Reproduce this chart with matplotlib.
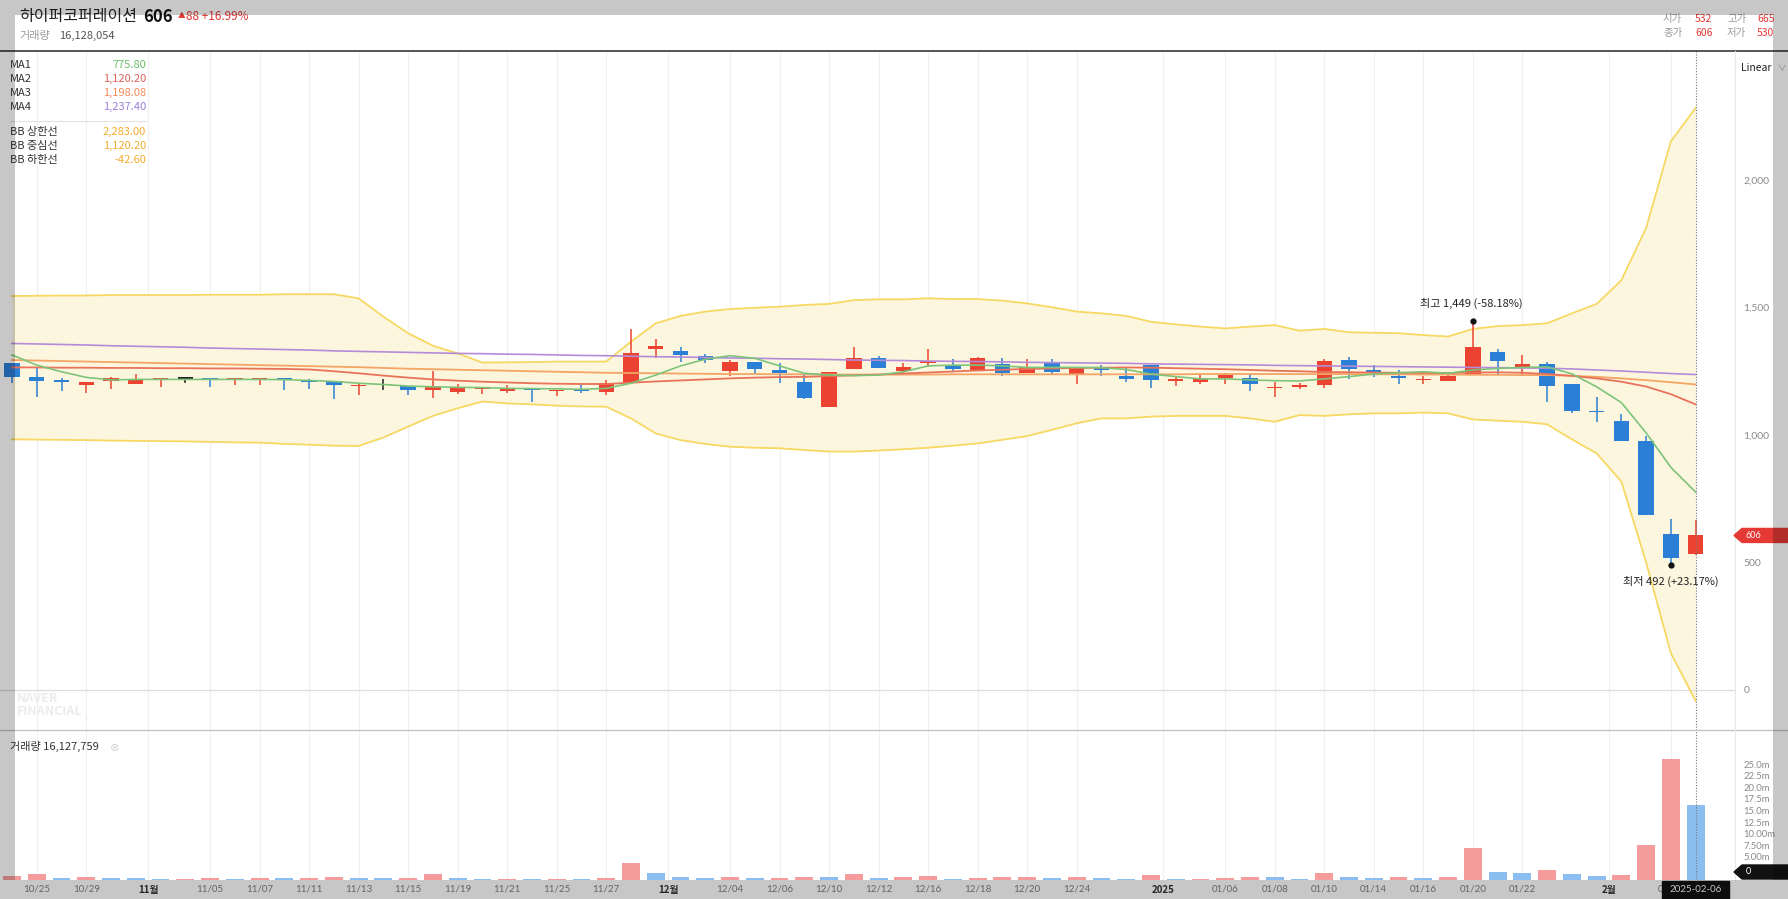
import matplotlib
matplotlib.use("Agg")
import matplotlib.pyplot as plt
from matplotlib.patches import Rectangle, Polygon
import numpy as np

plt.rcParams['font.family'] = ['Noto Sans CJK KR', 'DejaVu Sans']

# ---- data (daily candles, 2024-10-24 .. 2025-02-06) ----
dates = ['10/24', '10/25', '10/28', '10/29', '10/30', '10/31', '11/01', '11/04', '11/05', '11/06',
         '11/07', '11/08', '11/11', '11/12', '11/13', '11/14', '11/15', '11/18', '11/19', '11/20',
         '11/21', '11/22', '11/25', '11/26', '11/27', '11/28', '11/29', '12/02', '12/03', '12/04',
         '12/05', '12/06', '12/09', '12/10', '12/11', '12/12', '12/13', '12/16', '12/17', '12/18',
         '12/19', '12/20', '12/23', '12/24', '12/26', '12/27', '12/30', '01/02', '01/03', '01/06',
         '01/07', '01/08', '01/09', '01/10', '01/13', '01/14', '01/15', '01/16', '01/17', '01/20',
         '01/21', '01/22', '01/23', '01/24', '01/31', '02/03', '02/04', '02/05', '02/06']
opens = [1281, 1226, 1216, 1196, 1210, 1199, 1218, 1221, 1222, 1217, 1217, 1219, 1213, 1212, 1192,
         1195, 1192, 1176, 1168, 1180, 1174, 1182, 1173, 1177, 1169, 1205, 1336, 1331, 1311, 1252,
         1285, 1255, 1209, 1108, 1258, 1303, 1251, 1281, 1272, 1252, 1277, 1242, 1284, 1235, 1268,
         1230, 1274, 1213, 1207, 1225, 1222, 1183, 1190, 1196, 1294, 1255, 1231, 1216, 1213, 1235,
         1327, 1265, 1278, 1199, 1095, 1055, 978, 611, 532]
highs = [1283, 1261, 1222, 1208, 1226, 1238, 1223, 1229, 1222, 1220, 1220, 1219, 1218, 1212, 1203,
         1218, 1192, 1252, 1200, 1184, 1195, 1182, 1177, 1195, 1216, 1414, 1375, 1346, 1318, 1294,
         1285, 1284, 1235, 1246, 1344, 1310, 1284, 1336, 1297, 1307, 1301, 1297, 1297, 1261, 1274,
         1261, 1274, 1231, 1236, 1244, 1238, 1209, 1205, 1297, 1305, 1274, 1255, 1231, 1244, 1449,
         1337, 1314, 1288, 1199, 1148, 1081, 997, 671, 665]
lows = [1203, 1150, 1174, 1163, 1180, 1199, 1190, 1203, 1187, 1196, 1196, 1176, 1182, 1141, 1157,
        1176, 1157, 1146, 1161, 1161, 1163, 1128, 1153, 1163, 1157, 1205, 1303, 1288, 1284, 1233,
        1238, 1203, 1140, 1108, 1258, 1261, 1239, 1265, 1252, 1252, 1231, 1242, 1239, 1200, 1231,
        1207, 1186, 1192, 1199, 1200, 1174, 1148, 1179, 1183, 1220, 1229, 1199, 1199, 1213, 1235,
        1239, 1233, 1128, 1085, 1050, 978, 686, 492, 530]
closes = [1229, 1213, 1208, 1208, 1223, 1220, 1223, 1221, 1218, 1219, 1219, 1217, 1206, 1195, 1196,
          1195, 1176, 1192, 1187, 1184, 1182, 1178, 1177, 1173, 1203, 1323, 1349, 1312, 1294, 1286,
          1258, 1244, 1144, 1246, 1303, 1261, 1268, 1291, 1258, 1301, 1242, 1265, 1248, 1261, 1255,
          1220, 1216, 1218, 1221, 1235, 1200, 1190, 1196, 1290, 1258, 1248, 1224, 1220, 1231, 1344,
          1290, 1278, 1192, 1095, 1090, 978, 686, 518, 606]
volume_m = [0.93, 1.2, 0.5, 0.7, 0.4, 0.38, 0.2, 0.2, 0.5, 0.3,
            0.5, 0.4, 0.5, 0.65, 0.45, 0.4, 0.5, 1.4, 0.4, 0.3,
            0.3, 0.28, 0.3, 0.28, 0.5, 3.7, 1.45, 0.75, 0.4, 0.75,
            0.35, 0.5, 0.7, 0.65, 1.2, 0.5, 0.55, 0.8, 0.3, 0.5,
            0.55, 0.75, 0.45, 0.7, 0.4, 0.2, 1.0, 0.3, 0.3, 0.5,
            0.75, 0.55, 0.25, 1.5, 0.75, 0.4, 0.7, 0.4, 0.7, 6.9,
            1.8, 1.45, 2.1, 1.2, 0.95, 1.0, 7.5, 26.0, 16.13]

ma1 = [1314, 1274, 1248, 1226, 1216, 1218, 1218, 1218, 1218, 1218, 1218, 1217, 1214, 1210, 1203,
       1198, 1192, 1189, 1187, 1186, 1183, 1182, 1181, 1179, 1183, 1203, 1235, 1271, 1297, 1311,
       1301, 1271, 1242, 1235, 1233, 1235, 1248, 1271, 1274, 1274, 1271, 1265, 1265, 1265, 1264,
       1257, 1239, 1229, 1220, 1220, 1216, 1213, 1212, 1220, 1229, 1239, 1244, 1248, 1242, 1255,
       1261, 1265, 1267, 1240, 1189, 1127, 1008, 873, 776]
ma2 = [1265, 1265, 1264, 1264, 1263, 1263, 1262, 1262, 1261, 1261, 1260, 1259, 1257, 1250, 1242,
       1233, 1225, 1218, 1213, 1209, 1206, 1203, 1201, 1200, 1200, 1205, 1210, 1214, 1218, 1222,
       1225, 1227, 1228, 1231, 1234, 1237, 1241, 1245, 1249, 1253, 1256, 1259, 1261, 1263, 1264,
       1265, 1264, 1262, 1260, 1258, 1255, 1252, 1250, 1247, 1246, 1245, 1244, 1243, 1243, 1245,
       1246, 1244, 1239, 1232, 1222, 1209, 1190, 1160, 1120]
ma3 = [1294, 1292, 1290, 1288, 1286, 1284, 1282, 1280, 1278, 1276, 1274, 1272, 1270, 1268, 1266,
       1263, 1260, 1258, 1256, 1254, 1252, 1250, 1248, 1246, 1244, 1243, 1242, 1241, 1240, 1239,
       1239, 1238, 1238, 1237, 1237, 1237, 1237, 1237, 1238, 1238, 1238, 1238, 1238, 1238, 1238,
       1238, 1238, 1238, 1239, 1239, 1239, 1239, 1239, 1239, 1239, 1238, 1238, 1237, 1237, 1236,
       1236, 1235, 1235, 1232, 1228, 1222, 1215, 1207, 1198]
ma4 = [1359, 1357, 1355, 1353, 1350, 1348, 1346, 1344, 1341, 1339, 1337, 1335, 1333, 1330, 1328,
       1326, 1324, 1322, 1320, 1319, 1317, 1316, 1314, 1312, 1311, 1309, 1307, 1306, 1304, 1302,
       1301, 1299, 1298, 1296, 1294, 1293, 1292, 1290, 1289, 1288, 1287, 1285, 1284, 1283, 1282,
       1281, 1279, 1278, 1277, 1276, 1275, 1273, 1272, 1271, 1270, 1269, 1268, 1267, 1266, 1265,
       1264, 1263, 1262, 1259, 1255, 1251, 1246, 1241, 1237]
bb_upper = [1545, 1546, 1547, 1547, 1549, 1549, 1549, 1549, 1550, 1550, 1550, 1552, 1552, 1552, 1536,
            1464, 1399, 1350, 1320, 1284, 1285, 1286, 1288, 1288, 1288, 1366, 1438, 1467, 1484, 1494,
            1499, 1503, 1510, 1514, 1529, 1532, 1532, 1536, 1533, 1533, 1527, 1516, 1501, 1484, 1477,
            1467, 1444, 1434, 1425, 1418, 1425, 1431, 1409, 1416, 1403, 1401, 1399, 1392, 1386, 1416,
            1427, 1431, 1438, 1477, 1514, 1607, 1812, 2152, 2283]
bb_lower = [983, 982, 981, 980, 978, 977, 976, 975, 973, 971, 970, 965, 962, 958, 957,
            990, 1033, 1075, 1105, 1131, 1124, 1120, 1115, 1112, 1111, 1065, 1006, 980, 965, 954,
            950, 948, 941, 935, 935, 939, 944, 950, 958, 967, 981, 996, 1020, 1046, 1065,
            1065, 1072, 1075, 1075, 1075, 1065, 1052, 1078, 1075, 1081, 1085, 1085, 1088, 1085, 1061,
            1056, 1052, 1042, 983, 928, 817, 500, 144, -43]

tick_dates = ['10/25', '10/29', '11/05', '11/07', '11/11', '11/13', '11/15', '11/19', '11/21',
              '11/25', '11/27', '12/04', '12/06', '12/10', '12/12', '12/16', '12/18', '12/20',
              '12/24', '01/06', '01/08', '01/10', '01/14', '01/16', '01/20', '01/22', '02/05']
month_marks = [('11월', '11/01'), ('12월', '12/02'), ('2025', '01/02'), ('2월', '02/03')]
price_ticks = [0, 500, 1000, 1500, 2000]
vol_ticks = [5, 7.5, 10, 12.5, 15, 17.5, 20, 22.5, 25]
vol_tick_labels = ['5.00m', '7.50m', '10.00m', '12.5m', '15.0m', '17.5m', '20.0m', '22.5m', '25.0m']

# ---- layout (pixels of the 1788x899 canvas) ----
W, H = 1788, 899
fig = plt.figure(figsize=(W / 100, H / 100), dpi=100, facecolor='white')


def rect(x0, y0, x1, y1):
    return [x0 / W, 1 - y1 / H, (x1 - x0) / W, (y1 - y0) / H]


def fxy(x, y):
    return x / W, 1 - y / H


x0_px, step_px = 12, 24.76
xlim = ((0 - x0_px) / step_px, (1735 - x0_px) / step_px)

ax = fig.add_axes(rect(0, 51, 1735, 730))
axv = fig.add_axes(rect(0, 730, 1735, 880))
for a in (ax, axv):
    a.set_facecolor('none')
    for s in a.spines.values():
        s.set_visible(False)
    a.set_xlim(*xlim)

x = np.arange(len(dates))
o = np.array(opens); c = np.array(closes); hi = np.array(highs); lo = np.array(lows)

RED, BLUE = '#ec4231', '#2b80d5'

# vertical grid at label positions
idx = {d: i for i, d in enumerate(dates)}
tpos = [idx[d] for d in tick_dates]
mpos = [idx[d] - 0.5 for _, d in month_marks]
for a in (ax, axv):
    for p in tpos + mpos:
        a.axvline(p, color='#f0f0f0', lw=0.9, zorder=0)

# Bollinger band
ax.fill_between(x, bb_lower, bb_upper, color='#fdf6df', zorder=1, lw=0)
ax.plot(x, bb_upper, color='#f6d862', lw=1.3, zorder=2)
ax.plot(x, bb_lower, color='#f6d862', lw=1.3, zorder=2)
ax.axhline(0, color='#dcdcdc', lw=0.9, zorder=1)

# candles
col = np.where(c > o, RED, np.where(c < o, BLUE, '#222222'))
ax.vlines(x, lo, hi, colors=col, lw=1.1, zorder=3)
body = np.maximum(np.abs(c - o), 5)
ax.bar(x, body, bottom=np.minimum(o, c), width=0.62, color=col, zorder=4, lw=0)

# moving averages
ax.plot(x, ma4, color='#b48bd9', lw=1.2, zorder=5)
ax.plot(x, ma3, color='#f4a566', lw=1.3, zorder=5)
ax.plot(x, ma2, color='#e8735a', lw=1.3, zorder=5)
ax.plot(x, ma1, color='#7cc47a', lw=1.2, zorder=6)

ax.set_ylim(-157, 2506)
ax.set_xticks([])
ax.yaxis.tick_right()
ax.set_yticks(price_ticks, [f'{v:,}' for v in price_ticks])
ax.tick_params(axis='y', length=0, pad=6, labelsize=7.5, labelcolor='#8a8a8a')
for t in ax.get_yticklabels():
    t.set_fontfamily('Lato')

# high / low markers
imax = int(np.argmax(hi)); imin = int(np.argmin(lo))
ax.plot([imax], [hi[imax]], 'o', color='#111', ms=3.5, zorder=7)
ax.plot([imin], [lo[imin]], 'o', color='#111', ms=3.5, zorder=7)
ax.annotate(f'최고 {hi[imax]:,} (-58.18%)', (imax, hi[imax]), xytext=(-1, 12), textcoords='offset points',
            ha='center', va='center', fontsize=8, color='#222')
ax.annotate(f'최저 {lo[imin]:,} (+23.17%)', (imin, lo[imin]), xytext=(0, -12.5), textcoords='offset points',
            ha='center', va='center', fontsize=8, color='#222')

# crosshair
for a in (ax, axv):
    a.axvline(len(dates) - 1, color='#777', lw=0.8, ls=(0, (1, 1.5)), zorder=8)

# volume
vol = np.array(volume_m)
vcol = ['#f49c9c'] + [('#f49c9c' if vol[i] >= vol[i - 1] else '#8cbdf0') for i in range(1, len(vol))]
axv.bar(x, vol, width=0.72, color=vcol, lw=0, zorder=3)
axv.set_ylim(0, 32.33)
axv.yaxis.tick_right()
axv.set_yticks(vol_ticks, vol_tick_labels)
axv.tick_params(axis='y', length=0, pad=6, labelsize=6.8, labelcolor='#8a8a8a')
for t in axv.get_yticklabels():
    t.set_fontfamily('Lato')
axv.set_xticks(tpos + mpos, tick_dates + [m for m, _ in month_marks])
axv.tick_params(axis='x', length=0, pad=3.5, labelsize=7, labelcolor='#808080')
for t in axv.get_xticklabels():
    if t.get_text() in [m for m, _ in month_marks]:
        t.set_fontweight('bold')
        t.set_color('#333333')
    else:
        t.set_fontfamily('Lato')

# frame lines
fig.add_artist(plt.Line2D([0, 1], [1 - 51 / H] * 2, color='#555', lw=1.4))
fig.add_artist(plt.Line2D([0, 1], [1 - 730 / H] * 2, color='#c4c4c4', lw=1))
fig.add_artist(plt.Line2D([1735 / W] * 2, [1 - 880 / H, 1 - 51 / H], color='#e8e8e8', lw=0.8))

# header
kr = ['Noto Sans CJK KR', 'DejaVu Sans']
fig.text(*fxy(19, 17), '하이퍼코퍼레이션', fontsize=11.5, color='#222', va='center', family=kr)
fig.text(*fxy(143, 17), f'{closes[-1]}', fontsize=12, fontweight='bold', color='#111', va='center', family=kr)
fig.text(*fxy(178, 16), '▲', fontsize=5.5, color='#e53935', va='center', family=kr)
fig.text(*fxy(186, 16), '88 +16.99%', fontsize=8.5, color='#e53935', va='center', family=kr)
fig.text(*fxy(19, 36), '거래량', fontsize=8, color='#9a9a9a', va='center', family=kr)
fig.text(*fxy(59, 36), '16,128,054', fontsize=8, color='#555', va='center', family=kr)
for lab, val, xl, xv, yy in [('시가', opens[-1], 1663, 1695, 19), ('고가', highs[-1], 1727, 1757, 19),
                             ('종가', closes[-1], 1663, 1695, 33), ('저가', lows[-1], 1727, 1757, 33)]:
    fig.text(*fxy(xl, yy), lab, fontsize=7.5, color='#9a9a9a', va='center', family=kr)
    fig.text(*fxy(xv, yy), f'{val}', fontsize=7.5, color='#e53935', va='center', family=kr)
fig.text(*fxy(1741, 68), 'Linear', fontsize=7.5, color='#222', va='center', family=kr)
fig.text(*fxy(1777, 68), '∨', fontsize=6, color='#aaa', va='center')

# legend block
legend = [('MA1', '775.80', '#6cbf6a', 65), ('MA2', '1,120.20', '#e0605a', 79),
          ('MA3', '1,198.08', '#f08a5a', 93), ('MA4', '1,237.40', '#9d80d8', 107),
          ('BB 상한선', '2,283.00', '#f4ac2c', 132), ('BB 중심선', '1,120.20', '#f4ac2c', 146),
          ('BB 하한선', '-42.60', '#f4ac2c', 160)]
for lab, val, cc, yy in legend:
    fig.text(*fxy(10, yy), lab, fontsize=8, color='#333', va='center', family=kr)
    fig.text(*fxy(146, yy), val, fontsize=8, color=cc, va='center', ha='right', family=kr)
fig.add_artist(plt.Line2D([10 / W, 146 / W], [1 - 121 / H] * 2, color='#e2e2e2', lw=0.8))

fig.text(*fxy(17, 705), 'NAVER\nFINANCIAL', fontsize=9, fontweight='bold', color='#ececec',
         va='center', linespacing=0.95, family=kr)
fig.text(*fxy(10, 746), '거래량 16,127,759', fontsize=8, color='#333', va='center', family=kr)
fig.text(*fxy(110, 747), '⊗', fontsize=7, color='#c8c8c8', va='center')

# price / volume markers on the right axis
def marker(yc, color, text):
    pts = [fxy(1734, yc), fxy(1742, yc - 7), fxy(W, yc - 7), fxy(W, yc + 7), fxy(1742, yc + 7)]
    fig.add_artist(Polygon(pts, closed=True, color=color, transform=fig.transFigure, zorder=9))
    fig.text(*fxy(1746, yc), text, fontsize=6.5, color='white', va='center', zorder=10, family='Lato')

py = ax.transData.transform((0, closes[-1]))[1]
marker(H - py, '#e53935', f'{closes[-1]}')
marker(872, '#111111', '0')

fig.add_artist(Rectangle(fxy(1662, 899), 67 / W, 18 / H, color='#111', transform=fig.transFigure, zorder=9))
fig.text(*fxy(1695.5, 890), '2025-02-06', fontsize=7, color='white', ha='center', va='center',
         zorder=10, family='Lato')

# gray frame overlay
for (a0, b0, a1, b1) in [(0, 0, W, 15), (0, 15, 15, 880), (1773, 15, W, 880), (0, 880, W, H)]:
    fig.add_artist(Rectangle(fxy(a0, b1), (a1 - a0) / W, (b1 - b0) / H, color='black', alpha=0.22,
                             lw=0, transform=fig.transFigure, zorder=20))

fig.savefig('out.png', dpi=100, facecolor='white')
